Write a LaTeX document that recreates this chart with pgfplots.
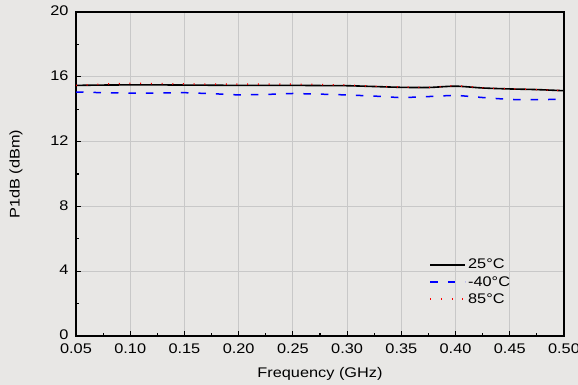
\documentclass[border=0pt]{standalone}
\usepackage{fontspec}
\setmainfont{Liberation Sans}[FakeStretch=1.17]
\usepackage{pgfplots}
\pgfplotsset{compat=1.18}
\definecolor{panel}{RGB}{232,231,229}
\definecolor{gridc}{RGB}{200,200,200}

% P1dB versus frequency at three temperatures
\pgfplotstableread{
f      p
0.050  15.47
0.075  15.49
0.100  15.50
0.125  15.50
0.150  15.49
0.175  15.48
0.200  15.47
0.225  15.47
0.250  15.47
0.275  15.46
0.300  15.45
0.325  15.40
0.350  15.35
0.375  15.34
0.400  15.42
0.425  15.31
0.450  15.25
0.475  15.21
0.500  15.14
}\tblroom
\pgfplotstableread{
f      p
0.050  15.06
0.075  15.02
0.100  14.99
0.125  15.00
0.150  15.02
0.175  14.96
0.200  14.88
0.225  14.91
0.250  14.97
0.275  14.93
0.300  14.88
0.325  14.81
0.350  14.71
0.375  14.78
0.400  14.86
0.425  14.72
0.450  14.60
0.475  14.59
0.500  14.61
}\tblcold
\pgfplotstableread{
f      p
0.050  15.47
0.075  15.55
0.100  15.60
0.125  15.58
0.150  15.56
0.175  15.55
0.200  15.55
0.225  15.55
0.250  15.54
0.275  15.52
0.300  15.49
0.325  15.42
0.350  15.37
0.375  15.35
0.400  15.44
0.425  15.32
0.450  15.26
0.475  15.21
0.500  15.14
}\tblhot

\begin{document}
\begin{tikzpicture}
\fill[panel] (-76bp,-49bp) rectangle (502bp,336bp);
\useasboundingbox (-76bp,-49bp) rectangle (502bp,336bp);
\begin{axis}[
  scale only axis, width=488bp, height=324bp,
  xmin=0.05, xmax=0.5, ymin=0, ymax=20,
  xtick={0.05,0.10,0.15,0.20,0.25,0.30,0.35,0.40,0.45,0.50},
  ytick={0,4,8,12,16,20},
  minor x tick num=1, minor y tick num=1,
  tick pos=left, tick align=inside,
  major tick length=5bp, minor tick length=3bp,
  every tick/.style={black, line width=1.2bp},
  grid=major, major grid style={gridc, line width=0.8bp},
  axis line style={line width=1.4bp},
  axis background/.style={fill=panel},
  font=\fontsize{14}{16}\selectfont,
  /pgf/number format/assume math mode=true,
  xticklabel style={yshift=-4bp, /pgf/number format/.cd, fixed, fixed zerofill, precision=2},
  yticklabel style={xshift=-4bp, yshift=1bp, /pgf/number format/.cd, fixed, precision=0},
  xlabel={Frequency (GHz)}, ylabel={P1dB (dBm)},
  xlabel style={at={(axis description cs:0.5,-0.117)}, anchor=center},
  ylabel style={at={(axis description cs:-0.123,0.5)}, anchor=center},
  legend cell align=left,
  legend style={draw=none, fill=none, at={(axis description cs:0.72,0.25)},
    anchor=north west, row sep=2bp, inner sep=2bp,
    font=\fontsize{14}{16}\selectfont},
  legend image code/.code={\draw[#1] (0bp,0bp) -- (35bp,0bp);},
]
\addplot[black, line width=1.6bp, smooth] table[x=f,y=p] {\tblroom};
\addlegendentry{25°C}
\addplot[blue, line width=1.5bp, dash pattern=on 7.5bp off 10bp] table[x=f,y=p] {\tblcold};
\addlegendentry{-40°C}
\addplot[red, line width=1.5bp, dash pattern=on 1bp off 9.7bp, smooth] table[x=f,y=p] {\tblhot};
\addlegendentry{85°C}
\end{axis}
\end{tikzpicture}
\end{document}
